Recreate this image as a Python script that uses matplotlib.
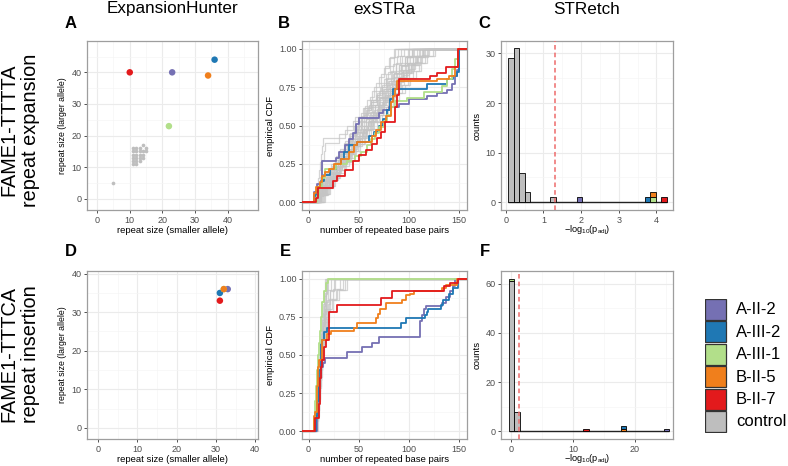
import matplotlib
matplotlib.use('Agg')
import matplotlib.pyplot as plt
import matplotlib.transforms as mtransforms
from matplotlib.patches import Rectangle
import numpy as np

plt.rcParams['font.family'] = ['Liberation Sans', 'DejaVu Sans']
plt.rcParams['mathtext.default'] = 'regular'

W, H = 788, 466

samples = ['A-II-2', 'A-III-2', 'A-III-1', 'B-II-5', 'B-II-7', 'control']
colours = ['#7570B3', '#1F78B4', '#B2DF8A', '#F07F1C', '#E31A1C', '#BEBEBE']

# ExpansionHunter: repeat sizes (smaller, larger allele), cases in sample order
eh1_case_small = [23, 36, 22, 34, 10]
eh1_case_large = [40, 44, 23, 39, 40]
eh1_ctrl_small = [5, 11, 11, 11, 11, 11, 11, 12, 12, 12, 12, 12, 12, 13, 13, 13, 13, 13, 14, 14, 14, 14, 15, 15]
eh1_ctrl_large = [5, 11, 12, 13, 14, 15, 16, 11, 12, 13, 14, 15, 16, 12, 13, 14, 15, 16, 13, 14, 15, 17, 15, 16]
eh2_case_small = [33, 31, 32, 32, 31]
eh2_case_large = [36, 35, 36, 36, 33]

# exSTRa: ECDF step points for the cases (x = repeated bp, y = cumulative fraction)
ex1_x = [
    [5.5, 8, 13, 27, 30, 36, 40, 44, 47, 50, 70, 74, 80, 90, 100, 118, 128, 138, 143, 146, 148, 150],
    [5.5, 7, 9, 12, 15, 21, 27, 32, 35, 40, 48, 60, 65, 70, 74, 78, 81, 84, 118, 138, 144, 148, 150],
    [8, 10, 13, 16, 27, 38, 46, 52, 58, 62, 66, 70, 75, 78, 82, 86, 98, 115, 133, 138, 143, 146, 149],
    [5, 7, 11, 13, 16, 20, 25, 32, 40, 45, 48, 63, 67, 72, 77, 82, 84, 86, 88, 128, 140, 146, 149],
    [7, 9, 24, 28, 36, 44, 50, 57, 63, 68, 72, 76, 86, 88, 90, 121, 128, 137, 149],
]
ex1_y = [
    [0.07, 0.12, 0.27, 0.29, 0.33, 0.37, 0.41, 0.45, 0.51, 0.55, 0.58, 0.60, 0.62, 0.64, 0.67, 0.69, 0.71, 0.73, 0.77, 0.82, 0.86, 1.0],
    [0.04, 0.07, 0.10, 0.14, 0.18, 0.22, 0.25, 0.28, 0.33, 0.37, 0.39, 0.43, 0.46, 0.50, 0.54, 0.60, 0.67, 0.74, 0.77, 0.80, 0.82, 0.85, 1.0],
    [0.04, 0.10, 0.16, 0.22, 0.25, 0.27, 0.30, 0.33, 0.37, 0.41, 0.45, 0.49, 0.53, 0.57, 0.62, 0.66, 0.68, 0.72, 0.76, 0.80, 0.87, 0.93, 1.0],
    [0.06, 0.10, 0.13, 0.17, 0.20, 0.22, 0.25, 0.28, 0.33, 0.37, 0.39, 0.43, 0.47, 0.52, 0.56, 0.65, 0.69, 0.74, 0.79, 0.80, 0.82, 0.88, 1.0],
    [0.03, 0.09, 0.14, 0.17, 0.21, 0.27, 0.31, 0.34, 0.38, 0.42, 0.46, 0.52, 0.62, 0.70, 0.80, 0.82, 0.84, 0.88, 1.0],
]
ex2_x = [
    [8, 9, 10, 12, 14, 16, 38, 53, 63, 70, 111, 113, 115, 117, 133, 137, 141, 144, 146],
    [7, 8, 10, 12, 12.5, 13.5, 15, 18, 92, 97, 116, 118, 119, 132, 134, 140, 144, 149],
    [5, 6, 7, 8, 9, 10, 11, 12, 13, 15, 17, 19],
    [5, 6.5, 8, 9, 10.5, 13, 18, 22, 45, 48, 67, 69, 71, 77, 93, 97, 101, 105, 133, 137, 148],
    [6, 10, 11, 12, 13, 15, 17, 20, 28, 72, 83, 135, 141, 149],
]
ex2_y = [
    [0.10, 0.20, 0.35, 0.42, 0.45, 0.48, 0.52, 0.55, 0.58, 0.62, 0.72, 0.76, 0.80, 0.82, 0.84, 0.88, 0.92, 0.95, 1.0],
    [0.10, 0.20, 0.40, 0.47, 0.57, 0.60, 0.65, 0.68, 0.71, 0.74, 0.76, 0.78, 0.80, 0.83, 0.86, 0.90, 0.94, 1.0],
    [0.08, 0.20, 0.30, 0.40, 0.50, 0.58, 0.66, 0.75, 0.85, 0.92, 0.97, 1.0],
    [0.10, 0.13, 0.30, 0.42, 0.47, 0.60, 0.64, 0.66, 0.68, 0.71, 0.74, 0.77, 0.80, 0.84, 0.86, 0.89, 0.90, 0.92, 0.94, 0.96, 1.0],
    [0.09, 0.18, 0.35, 0.42, 0.47, 0.55, 0.60, 0.78, 0.83, 0.87, 0.92, 0.95, 0.97, 1.0],
]

# exSTRa: repeated bp of the reads of a selection of controls
ex1_ctrl = [
    [8, 12, 15, 19, 24, 29, 33, 38, 42, 47, 52, 57, 61, 66, 70, 76, 81, 85, 90, 96, 101, 108],
    [10, 14, 18, 22, 27, 31, 36, 40, 45, 50, 54, 59, 63, 68, 73, 78, 83, 88, 94, 100, 106, 113, 120],
    [6, 11, 16, 20, 25, 30, 34, 39, 44, 48, 53, 58, 62, 67, 71, 75, 79, 84, 88, 92],
    [12, 17, 21, 26, 32, 37, 43, 49, 55, 60, 65, 71, 77, 82, 87, 93, 99, 104, 110, 116, 124],
    [5, 7, 9, 10, 11, 12, 13, 14, 36, 44, 52, 60, 68, 75, 80, 85, 90, 96, 100],
    [9, 10, 11, 12, 13, 15, 16, 30, 38, 46, 55, 62, 70, 77, 84, 92, 98, 104],
    [14, 20, 25, 30, 36, 41, 46, 51, 57, 62, 67, 72, 77, 83, 89, 95, 102, 109, 116],
    [7, 13, 18, 23, 28, 34, 39, 44, 49, 55, 59, 64, 69, 74, 79, 84, 89, 94, 99, 104, 111],
    [11, 16, 22, 28, 33, 39, 44, 50, 56, 61, 66, 70, 74, 79, 83, 88, 93, 98, 103],
    [9, 15, 20, 26, 31, 37, 42, 48, 53, 58, 64, 69, 75, 80, 86, 91, 97, 103, 108, 114],
    [10, 13, 17, 21, 26, 30, 35, 40, 45, 49, 54, 58, 63, 67, 72, 76, 81, 86],
    [15, 19, 24, 29, 35, 40, 45, 51, 56, 62, 68, 73, 79, 84, 90, 96, 101, 107, 112, 118, 126],
    [8, 10, 14, 17, 22, 27, 31, 36, 41, 47, 52, 57, 62, 68, 73, 78, 83, 87, 91, 95],
    [12, 18, 23, 28, 33, 38, 43, 48, 54, 59, 64, 69, 75, 81, 86, 92, 97, 104, 110],
    [11, 14, 20, 24, 30, 35, 41, 46, 51, 57, 63, 68, 74, 79, 85, 90, 95, 100, 105, 112, 118],
    [9, 16, 21, 27, 32, 38, 43, 47, 52, 56, 61, 65, 70, 75, 80, 85],
    [10, 15, 19, 24, 28, 33, 37, 42, 46, 51, 55, 60, 64, 69, 73, 78, 82, 87, 92, 98, 105],
    [13, 18, 22, 27, 31, 36, 41, 45, 50, 55, 60, 65, 70, 76, 81, 87, 93, 99, 106, 113],
    [7, 11, 14, 18, 23, 27, 32, 36, 41, 46, 50, 55, 59, 64, 68, 73, 77, 82, 87, 93, 99],
    [16, 21, 26, 31, 37, 42, 47, 53, 58, 64, 70, 75, 81, 86, 92, 98, 104, 111, 119],
    [9, 12, 16, 21, 25, 29, 34, 39, 43, 48, 53, 57, 62, 66, 71, 77, 83, 89, 94, 100, 107, 115],
    [11, 17, 22, 26, 31, 35, 40, 44, 49, 53, 58, 62, 67, 72, 77, 81, 85, 89],
    [8, 13, 17, 22, 26, 31, 36, 41, 46, 52, 57, 63, 68, 74, 79, 85, 90, 96, 103],
    [12, 16, 21, 25, 30, 34, 39, 44, 48, 53, 57, 62, 67, 71, 76, 81, 86, 91, 97, 102, 108, 114],
]
ex2_ctrl = [
    [6, 7, 8, 9, 9, 10, 11, 12, 13, 14, 15, 16],
    [7, 8, 9, 10, 10, 11, 12, 13, 14, 15, 17, 19, 22],
    [5, 6, 8, 9, 10, 11, 12, 12, 13, 14, 16, 18, 21, 26],
    [8, 9, 10, 11, 12, 13, 14, 15, 16, 18, 20, 24, 30, 38],
    [6, 8, 9, 10, 11, 11, 12, 13, 14, 15, 16, 17, 19],
    [7, 9, 10, 10, 11, 12, 13, 13, 14, 16, 18, 20, 23, 28, 34],
    [9, 10, 11, 12, 13, 14, 15, 16, 17, 18],
    [6, 7, 9, 10, 12, 13, 14, 16, 17, 19, 21, 25],
    [5, 7, 8, 9, 10, 11, 12, 13, 15, 16, 18],
    [8, 9, 9, 10, 11, 12, 12, 13, 14, 15, 16, 17, 20, 24, 31],
    [6, 8, 10, 11, 12, 13, 14, 15, 17],
    [7, 8, 10, 11, 11, 12, 13, 14, 15, 16, 18, 21, 27, 36],
]

# STRetch: histogram bins of -log10(p_adj)
st1_width = 0.145
st1_ctrl_x = [0.14, 0.285, 0.43, 0.575, 1.26]
st1_ctrl_n = [29, 31, 6, 2, 1]
st1_case_x = [1.96, 3.77, 3.915, 3.915, 4.2]
st1_case_n = [1, 1, 1, 1, 1]
st1_case_base = [0, 0, 0, 1, 0]
st2_width = 0.89
st2_ctrl_x = [0.05, 0.94]
st2_ctrl_n = [61, 8]
st2_case_x = [25.15, 18.15, 0.05, 18.15, 12.1]
st2_case_n = [1, 1, 1, 1, 1]
st2_case_base = [0, 1, 61, 0, 0]
p_cut = 0.05


def box(l, t, r, b):
    return [l / W, 1 - b / H, (r - l) / W, (b - t) / H]


def style(ax, xlim, ylim, xmaj, xmin, ymaj, ymin, ylabels=None):
    ax.set_xlim(xlim)
    ax.set_ylim(ylim)
    ax.set_xticks(xmaj)
    ax.set_xticks(xmin, minor=True)
    ax.set_yticks(ymaj)
    ax.set_yticks(ymin, minor=True)
    if ylabels is not None:
        ax.set_yticklabels(ylabels)
    ax.grid(which='major', color='#EBEBEB', lw=0.8)
    ax.grid(which='minor', color='#F5F5F5', lw=0.5)
    ax.set_axisbelow(True)
    ax.tick_params(which='minor', length=0)
    ax.tick_params(which='major', length=2.5, width=0.6, color='#333333',
                   labelsize=6.5, labelcolor='#4D4D4D', pad=1.5)
    for s in ax.spines.values():
        s.set_color('#9E9E9E')
        s.set_linewidth(0.9)


def ecdf_lengths(ax, lengths, xlim, **kw):
    xs = np.sort(lengths)
    ys = np.arange(1, len(xs) + 1) / len(xs)
    ax.step(np.r_[xlim[0], xs, xlim[1]], np.r_[0, ys, 1], where='post', **kw)


def ecdf_steps(ax, xs, ys, xlim, **kw):
    ax.step(np.r_[xlim[0], xs, xlim[1]], np.r_[0, ys, ys[-1]], where='post', **kw)


fig = plt.figure(figsize=(W / 100, H / 100), dpi=100)

# ---- ExpansionHunter
axA = fig.add_axes(box(87, 41, 258, 210))
axD = fig.add_axes(box(87, 271, 258, 439))
axA.scatter(eh1_ctrl_small, eh1_ctrl_large, s=7, color=colours[5], lw=0, zorder=2)
axA.scatter(eh1_case_small, eh1_case_large, s=22, color=colours[:5], lw=0, zorder=3)
order = [0, 1, 2, 4, 3]
axD.scatter([eh2_case_small[i] for i in order], [eh2_case_large[i] for i in order],
            s=22, color=[colours[i] for i in order], lw=0, zorder=3)
style(axA, (-3.1, 49.3), (-3.5, 49.9), [0, 10, 20, 30, 40], [5, 15, 25, 35, 45],
      [0, 10, 20, 30, 40], [5, 15, 25, 35, 45])
style(axD, (-2.8, 40.7), (-2.9, 40.7), [0, 10, 20, 30, 40], [5, 15, 25, 35],
      [0, 10, 20, 30, 40], [5, 15, 25, 35])
for ax in (axA, axD):
    ax.set_xlabel('repeat size (smaller allele)', fontsize=6.8, labelpad=1)
    ax.set_ylabel('repeat size (larger allele)', fontsize=6.3, labelpad=3)

# ---- exSTRa
ex_lim = (-6.6, 158.4)
axB = fig.add_axes(box(302, 41, 467, 210))
axE = fig.add_axes(box(302, 271, 467, 439))
for ax, ctrl, cx, cy in ((axB, ex1_ctrl, ex1_x, ex1_y), (axE, ex2_ctrl, ex2_x, ex2_y)):
    for lengths in ctrl:
        ecdf_lengths(ax, lengths, ex_lim, color='#C4C4C4', lw=0.9, alpha=0.7, zorder=2)
    for i in range(5):
        ecdf_steps(ax, cx[i], cy[i], ex_lim, color=colours[i], lw=1.3, zorder=3)
    style(ax, ex_lim, (-0.05, 1.05), [0, 50, 100, 150], [25, 75, 125],
          [0, 0.25, 0.5, 0.75, 1.0], [0.125, 0.375, 0.625, 0.875],
          ['0.00', '0.25', '0.50', '0.75', '1.00'])
    ax.set_xlabel('number of repeated base pairs', fontsize=6.8, labelpad=1)
    ax.set_ylabel('empirical CDF', fontsize=6.8, labelpad=3)

# ---- STRetch
axC = fig.add_axes(box(501, 41, 673, 210))
axF = fig.add_axes(box(501, 271, 673, 439))
for ax, wd, ctx, ctn, csx, csn, csb, lab_bottom in (
        (axC, st1_width, st1_ctrl_x, st1_ctrl_n, st1_case_x, st1_case_n, st1_case_base, 237),
        (axF, st2_width, st2_ctrl_x, st2_ctrl_n, st2_case_x, st2_case_n, st2_case_base, 465.5)):
    allx = ctx + csx
    ax.hlines(0, min(allx) - wd / 2, max(allx) + wd / 2, color='#222222', lw=1.0, zorder=2)
    ax.bar(ctx, ctn, width=wd, color=colours[5], edgecolor='black', lw=0.6, zorder=3)
    ax.bar(csx, csn, width=wd, bottom=csb, color=colours[:5], edgecolor='black', lw=0.6, zorder=3)
    ax.axvline(-np.log10(p_cut), color='#EE6B6B', lw=1.1, ls=(0, (3, 2)), zorder=4)
    ax.set_ylabel('counts', fontsize=6.8, labelpad=3)
    ax.set_xlabel('$-log_{10}(p_{adj})$', fontsize=6.6, va='bottom')
    ax.xaxis.set_label_coords(0.5, 1 - lab_bottom / H,
                              transform=mtransforms.blended_transform_factory(ax.transAxes, fig.transFigure))
style(axC, (-0.125, 4.44), (-1.55, 32.5), [0, 1, 2, 3, 4], [0.5, 1.5, 2.5, 3.5],
      [0, 10, 20, 30], [5, 15, 25])
style(axF, (-1.64, 26.2), (-3.1, 65.2), [0, 10, 20], [5, 15, 25],
      [0, 20, 40, 60], [10, 30, 50])

# ---- titles and labels
for txt, x in (('ExpansionHunter', 172.5), ('exSTRa', 384.5), ('STRetch', 587)):
    fig.text(x / W, 1 - 9 / H, txt, ha='center', va='center', fontsize=12.3)
for txt, x, y in (('A', 71, 23), ('B', 284, 23), ('C', 484, 23),
                  ('D', 71, 252), ('E', 285, 252), ('F', 485, 252)):
    fig.text(x / W, 1 - y / H, txt, ha='center', va='center', fontsize=12, fontweight='bold')
fig.text(20 / W, 1 - 130 / H, 'FAME1-TTTTA\nrepeat expansion', rotation=90,
         ha='center', va='center', multialignment='center', fontsize=14.3)
fig.text(20 / W, 1 - 354 / H, 'FAME1-TTTCA\nrepeat insertion', rotation=90,
         ha='center', va='center', multialignment='center', fontsize=14.3)

# ---- legend
lg = fig.add_axes(box(705, 299, 788, 433))
lg.set_xlim(0, 83)
lg.set_ylim(134, 0)
lg.axis('off')
for i, (name, col) in enumerate(zip(samples, colours)):
    lg.add_patch(Rectangle((0, i * 22.4), 21, 21, facecolor=col, edgecolor='#333333', lw=0.9))
    lg.text(31, i * 22.4 + 11, name, ha='left', va='center', fontsize=12)

fig.savefig('out.png', dpi=100)
